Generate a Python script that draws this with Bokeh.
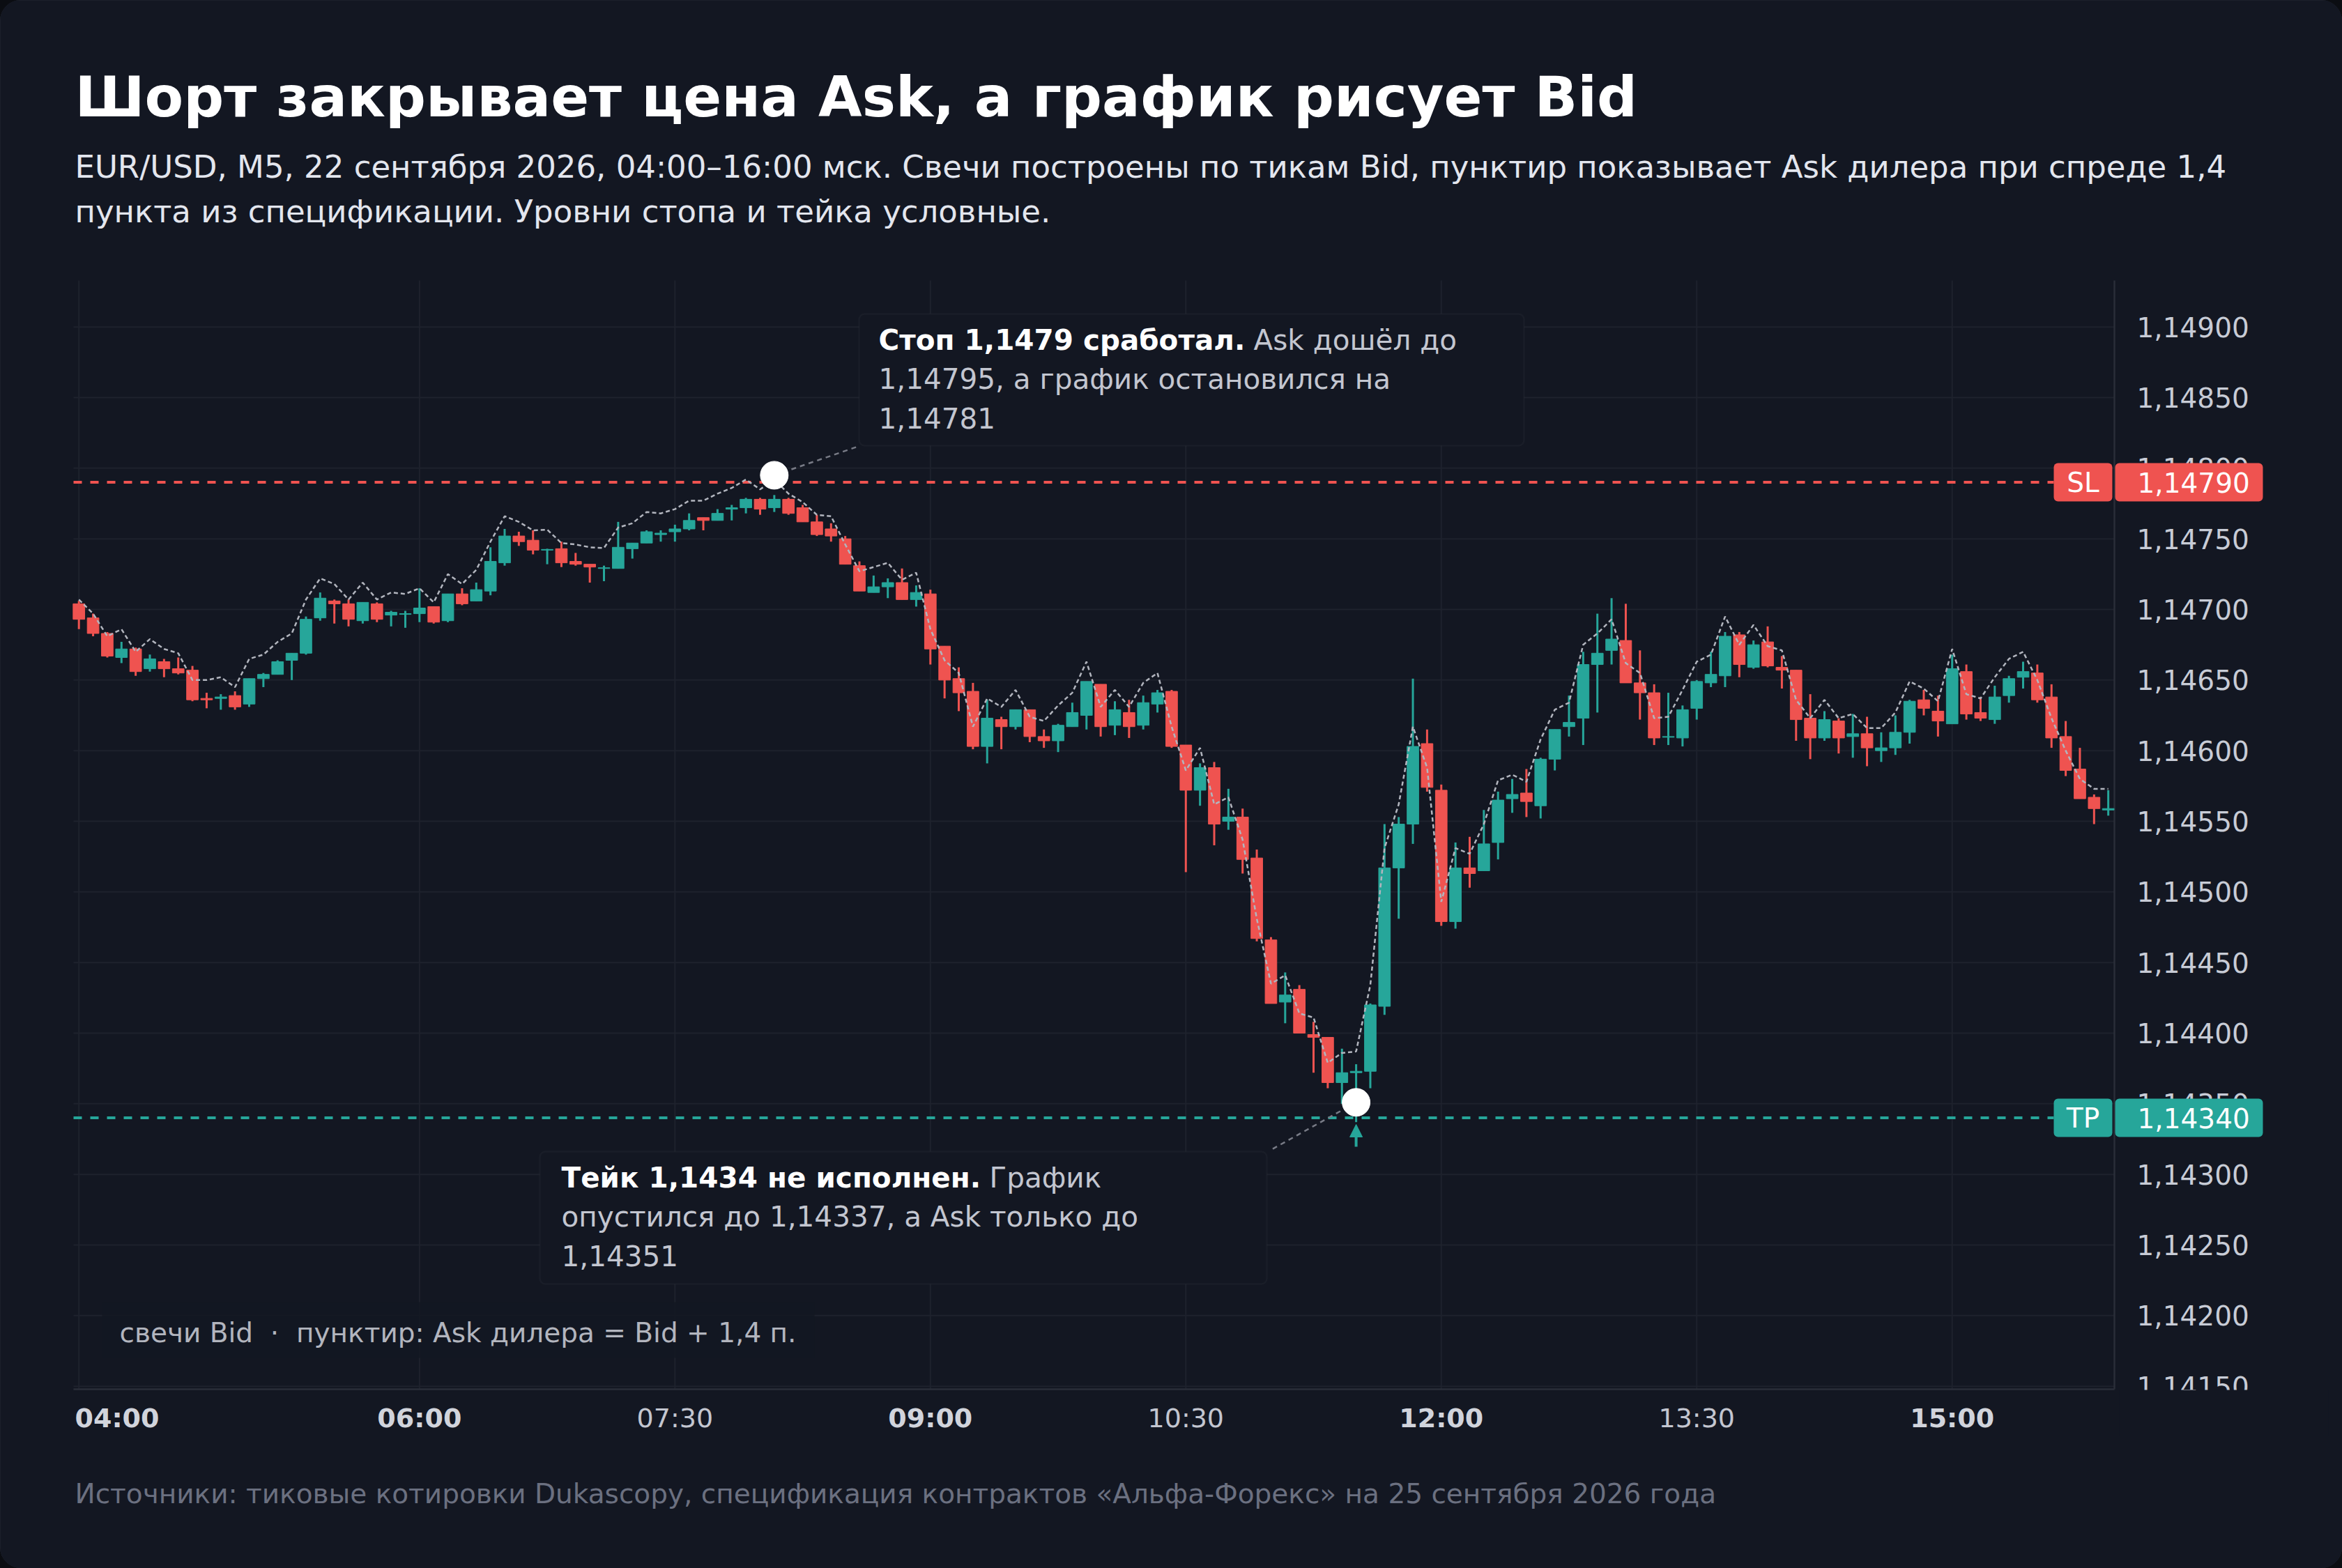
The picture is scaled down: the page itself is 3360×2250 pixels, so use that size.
from bokeh.plotting import figure
from bokeh.models import (Range1d, Label, BoxAnnotation, ColumnDataSource, Arrow, NormalHead)
from bokeh.core.properties import value
from bokeh.embed import file_html
from bokeh.resources import INLINE

# ---------------- data (EUR/USD M5, Bid candles) ----------------
opens = [1.14704, 1.14694, 1.14683, 1.14666, 1.14672, 1.14658, 1.14663, 1.14658, 1.14657, 1.14637,
         1.14637, 1.14639, 1.14633, 1.14651, 1.14654, 1.14664, 1.14669, 1.14694, 1.14706, 1.14704,
         1.14692, 1.14704, 1.14696, 1.146965, 1.14697, 1.14702, 1.14692, 1.14711, 1.14706, 1.14713,
         1.14733, 1.14752, 1.14749, 1.14742, 1.14743, 1.14734, 1.14732, 1.14729, 1.14729, 1.14743,
         1.14747, 1.14753, 1.14755, 1.14757, 1.14765, 1.14763, 1.14771, 1.14772, 1.14778, 1.14772,
         1.14778, 1.14772, 1.14762, 1.14757, 1.14750, 1.14731, 1.14712, 1.14716, 1.14719, 1.14707,
         1.14711, 1.14674, 1.14651, 1.14642, 1.14603, 1.14622, 1.14617, 1.14629, 1.14610, 1.14607,
         1.14617, 1.14625, 1.14647, 1.14618, 1.14627, 1.14618, 1.14633, 1.14642, 1.14604, 1.14572,
         1.14588, 1.14550, 1.14553, 1.14524, 1.14466, 1.14422, 1.14431, 1.14399, 1.14397, 1.14365,
         1.14372, 1.14373, 1.14419, 1.14517, 1.14548, 1.14605, 1.14572, 1.14479, 1.14517, 1.14515,
         1.14535, 1.14566, 1.14570, 1.14561, 1.14594, 1.14617, 1.14623, 1.14661, 1.14671, 1.14678,
         1.14648, 1.14641, 1.146095, 1.14609, 1.14630, 1.14648, 1.14653, 1.14682, 1.14659, 1.14677,
         1.14659, 1.14657, 1.14623, 1.14609, 1.14621, 1.14610, 1.14612, 1.14600, 1.14602, 1.14613,
         1.14636, 1.14628, 1.14619, 1.14656, 1.14627, 1.14622, 1.14639, 1.14652, 1.14655, 1.14638,
         1.14610, 1.14587, 1.14567, 1.14558]
highs = [1.14706, 1.14697, 1.14684, 1.14677, 1.14673, 1.14668, 1.14665, 1.14666, 1.14660, 1.14641,
         1.14640, 1.14642, 1.14651, 1.14655, 1.14664, 1.14669, 1.14695, 1.14712, 1.14707, 1.14707,
         1.14705, 1.14705, 1.14699, 1.14699, 1.14715, 1.14702, 1.14711, 1.14715, 1.14719, 1.14744,
         1.14757, 1.14755, 1.14756, 1.14743, 1.14748, 1.14740, 1.14732, 1.14731, 1.14762, 1.14747,
         1.14756, 1.14756, 1.14760, 1.14768, 1.14765, 1.14771, 1.14774, 1.14779, 1.14779, 1.14781,
         1.14779, 1.14774, 1.14767, 1.14761, 1.14752, 1.14734, 1.14724, 1.14722, 1.14729, 1.14717,
         1.14714, 1.14674, 1.14659, 1.14648, 1.14636, 1.14624, 1.14629, 1.14629, 1.14615, 1.14619,
         1.14634, 1.14649, 1.14647, 1.14635, 1.14636, 1.14639, 1.14643, 1.14643, 1.14604, 1.14591,
         1.14592, 1.14573, 1.14559, 1.14530, 1.14468, 1.14443, 1.14434, 1.14408, 1.14397, 1.14389,
         1.14378, 1.14421, 1.14548, 1.14553, 1.14651, 1.14615, 1.14576, 1.14535, 1.14539, 1.14558,
         1.14571, 1.14580, 1.14587, 1.14595, 1.14615, 1.14639, 1.14670, 1.14697, 1.14708, 1.14704,
         1.14671, 1.14647, 1.14641, 1.14632, 1.14650, 1.14670, 1.14684, 1.14684, 1.14678, 1.14688,
         1.14667, 1.14657, 1.14640, 1.14628, 1.14623, 1.14626, 1.14624, 1.14613, 1.14625, 1.14636,
         1.14643, 1.14639, 1.14668, 1.14661, 1.14638, 1.14646, 1.14653, 1.14663, 1.14661, 1.14647,
         1.14621, 1.14602, 1.14569, 1.14572]
lows = [1.14686, 1.14681, 1.14666, 1.14662, 1.14653, 1.14656, 1.14652, 1.14654, 1.14635, 1.14630,
        1.14629, 1.14629, 1.14631, 1.14645, 1.14654, 1.14650, 1.14668, 1.14692, 1.14690, 1.14688,
        1.14690, 1.14691, 1.14688, 1.14687, 1.14691, 1.14690, 1.14691, 1.14703, 1.14706, 1.14710,
        1.14731, 1.14745, 1.14739, 1.14732, 1.14730, 1.14731, 1.14719, 1.14720, 1.14729, 1.14736,
        1.14747, 1.14748, 1.14748, 1.14756, 1.14756, 1.14763, 1.14763, 1.14768, 1.14767, 1.14769,
        1.14767, 1.14762, 1.14752, 1.14748, 1.14732, 1.14713, 1.14712, 1.14708, 1.14707, 1.14702,
        1.14661, 1.14637, 1.14628, 1.14601, 1.14591, 1.14601, 1.14615, 1.14606, 1.14602, 1.14599,
        1.14617, 1.14615, 1.14610, 1.14611, 1.14609, 1.14615, 1.14627, 1.14602, 1.14514, 1.14561,
        1.14533, 1.14544, 1.14513, 1.14465, 1.14421, 1.14407, 1.14400, 1.14372, 1.14361, 1.14350,
        1.14337, 1.14361, 1.14413, 1.14481, 1.14534, 1.14571, 1.14476, 1.14474, 1.14503, 1.14515,
        1.14523, 1.14556, 1.14553, 1.14552, 1.14586, 1.14610, 1.14604, 1.14627, 1.14661, 1.14648,
        1.14622, 1.14604, 1.14604, 1.14603, 1.14622, 1.14645, 1.14645, 1.14652, 1.14658, 1.14659,
        1.14644, 1.14607, 1.14594, 1.14607, 1.14598, 1.14595, 1.14589, 1.14592, 1.14597, 1.14605,
        1.14625, 1.14610, 1.14619, 1.14622, 1.14621, 1.14619, 1.14634, 1.14644, 1.14634, 1.14602,
        1.14582, 1.14566, 1.14548, 1.14554]
closes = [1.14693, 1.14683, 1.14667, 1.14672, 1.14656, 1.14665, 1.14658, 1.14655, 1.14636, 1.14636,
          1.14638, 1.14631, 1.14651, 1.14654, 1.14663, 1.14669, 1.14693, 1.14708, 1.14704, 1.14693,
          1.14705, 1.14693, 1.14698, 1.14697, 1.14701, 1.14691, 1.14711, 1.14704, 1.14714, 1.14734,
          1.14752, 1.14748, 1.14742, 1.147425, 1.14733, 1.14732, 1.14730, 1.147295, 1.14744, 1.14747,
          1.14755, 1.14754, 1.14757, 1.14763, 1.14763, 1.14768, 1.14772, 1.14778, 1.14771, 1.14778,
          1.14768, 1.14762, 1.14753, 1.14752, 1.14732, 1.14713, 1.14716, 1.14719, 1.14707, 1.14712,
          1.14672, 1.14650, 1.14641, 1.14603, 1.14623, 1.14617, 1.14629, 1.14610, 1.14607, 1.14618,
          1.14627, 1.14649, 1.14617, 1.14629, 1.14617, 1.14634, 1.14641, 1.14603, 1.14572, 1.14588,
          1.14548, 1.14553, 1.14523, 1.14467, 1.14421, 1.14427, 1.14400, 1.14397, 1.14365, 1.14372,
          1.14373, 1.14420, 1.14517, 1.14548, 1.14603, 1.14574, 1.14479, 1.14517, 1.14513, 1.14534,
          1.14565, 1.14569, 1.14564, 1.14594, 1.14615, 1.14620, 1.14661, 1.14669, 1.14679, 1.14648,
          1.14641, 1.14609, 1.14610, 1.14629, 1.14649, 1.14654, 1.14681, 1.14661, 1.14675, 1.14660,
          1.14657, 1.14622, 1.14609, 1.14622, 1.14609, 1.14612, 1.14602, 1.14602, 1.14613, 1.14635,
          1.14630, 1.14621, 1.14658, 1.14626, 1.14623, 1.14638, 1.14651, 1.14656, 1.14636, 1.14609,
          1.14586, 1.14566, 1.14559, 1.14559]

SPREAD = 0.00014          # 1,4 pips from the dealer's specification: Ask = Bid + spread
SL_LEVEL = 1.14790
TP_LEVEL = 1.14340
STOP_CANDLE = 49          # candle whose Ask touched the stop
TAKE_CANDLE = 90          # candle with the lowest Bid

time_ticks = [0, 24, 42, 60, 78, 96, 114, 132]
time_labels = ["04:00", "06:00", "07:30", "09:00", "10:30", "12:00", "13:30", "15:00"]
bold_times = ["04:00", "06:00", "09:00", "12:00", "15:00"]
price_ticks = [1.14150, 1.14200, 1.14250, 1.14300, 1.14350, 1.14400, 1.14450, 1.14500,
               1.14550, 1.14600, 1.14650, 1.14700, 1.14750, 1.14800, 1.14850, 1.14900]
price_labels = ["1,14150", "1,14200", "1,14250", "1,14300", "1,14350", "1,14400", "1,14450", "1,14500",
                "1,14550", "1,14600", "1,14650", "1,14700", "1,14750", "1,14800", "1,14850", "1,14900"]

TITLE = "Шорт закрывает цена Ask, а график рисует Bid"
SUB1 = "EUR/USD, M5, 22 сентября 2026, 04:00–16:00 мск. Свечи построены по тикам Bid, пунктир показывает Ask дилера при спреде 1,4"
SUB2 = "пункта из спецификации. Уровни стопа и тейка условные."
SOURCE = "Источники: тиковые котировки Dukascopy, спецификация контрактов «Альфа-Форекс» на 25 сентября 2026 года"
LEGEND = "свечи Bid\u00a0\u00a0·\u00a0\u00a0пунктир: Ask дилера = Bid + 1,4 п."

# ---------------- style ----------------
BG = "#131722"
GRID = "#1e222d"
AXIS = "#2a2e39"
UP = "#26a69a"
DOWN = "#ef5350"
FONT = "DejaVu Sans"

# page-pixel -> data helpers (candle index on x, price on y)
FX0, FDX = 112.7, 20.36
FY0, FPY = 874.0, 2.0267


def xd(X):
    return (X - FX0) / FDX


def yd(Y):
    return 1.147 + (FY0 - Y) / FPY * 1e-5


# plot area edges (page pixels)
LEFT, RIGHT, TOP, BOTTOM = 105, 3033, 402, 1993

W, H = 3360, 2250
p = figure(width=W, height=H, output_backend="svg", toolbar_location=None,
           x_range=Range1d(xd(0), xd(W)), y_range=Range1d(yd(H), yd(0)),
           x_axis_location=None, y_axis_location=None, min_border=0)
p.background_fill_color = BG
p.border_fill_color = BG
p.outline_line_color = None
p.grid.visible = False

try:
    from bokeh.models import InlineStyleSheet, GlobalInlineStyleSheet
    p.stylesheets = [
        InlineStyleSheet(css=":host { border-radius: 30px; overflow: hidden; outline: 3px solid #262a35; outline-offset: -3px; }"),
        GlobalInlineStyleSheet(css="html, body { background: #0b0d12; }"),
    ]
except Exception:
    pass

# grid
p.segment(x0=time_ticks, y0=[yd(BOTTOM)] * len(time_ticks), x1=time_ticks, y1=[yd(TOP)] * len(time_ticks),
          line_color=GRID, line_width=2)
p.segment(x0=[xd(LEFT)] * len(price_ticks), y0=price_ticks, x1=[xd(RIGHT)] * len(price_ticks), y1=price_ticks,
          line_color=GRID, line_width=2)
# axis lines
p.segment(x0=[xd(LEFT), xd(RIGHT)], y0=[yd(BOTTOM), yd(BOTTOM)], x1=[xd(RIGHT), xd(RIGHT)], y1=[yd(BOTTOM), yd(TOP)],
          line_color=AXIS, line_width=2.5)

# price scale labels
p.text(x=[xd(3065)] * len(price_ticks), y=price_ticks, text=price_labels, text_font=value(FONT),
       text_font_size="39px", text_color="#c8ccd6", text_align="left", text_baseline="middle")

# SL / TP levels
p.line([xd(LEFT), xd(2946)], [SL_LEVEL, SL_LEVEL], line_color=DOWN, line_width=4, line_dash="12 12")
p.line([xd(LEFT), xd(2946)], [TP_LEVEL, TP_LEVEL], line_color=UP, line_width=4, line_dash="12 12")

# candles
n = len(closes)
idx = list(range(n))
colors = [UP if c >= o else DOWN for o, c in zip(opens, closes)]
src = ColumnDataSource(dict(
    x=idx, high=highs, low=lows,
    top=[max(o, c) for o, c in zip(opens, closes)],
    bottom=[min(o, c) for o, c in zip(opens, closes)],
    color=colors))
p.segment(x0="x", y0="low", x1="x", y1="high", line_color="color", line_width=3, source=src)
p.vbar(x="x", width=0.82, top="top", bottom="bottom", fill_color="color",
       line_color="color", line_width=1, source=src)

# dealer Ask line
ask = [c + SPREAD for c in closes]
p.line(idx, ask, line_color="#b2b5be", line_width=2.5, line_dash="6 4")

# key points
stop_ask = highs[STOP_CANDLE] + SPREAD
take_ask = lows[TAKE_CANDLE] + SPREAD
p.line([STOP_CANDLE, xd(1228)], [stop_ask, yd(641)], line_color="#787b86", line_width=2.5, line_dash="7 6")
p.line([TAKE_CANDLE, xd(1822)], [take_ask, yd(1650)], line_color="#787b86", line_width=2.5, line_dash="7 6")
p.scatter([STOP_CANDLE, TAKE_CANDLE], [stop_ask, take_ask], size=40,
          fill_color="#ffffff", line_color="#ffffff")
p.add_layout(Arrow(end=NormalHead(size=18, fill_color=UP, line_color=UP),
                   x_start=TAKE_CANDLE, y_start=yd(1645), x_end=TAKE_CANDLE, y_end=yd(1613),
                   line_color=UP, line_width=4))

# annotation boxes
for (l, r, t, b) in [(1232, 2186, 450, 639), (774, 1817, 1652, 1842)]:
    p.add_layout(BoxAnnotation(left=xd(l), right=xd(r), top=yd(t), bottom=yd(b),
                               fill_color=BG, fill_alpha=1, line_color=AXIS, line_width=2.5,
                               border_radius=8))
# legend backdrop
p.add_layout(BoxAnnotation(left=xd(146), right=xd(1168), top=yd(1868), bottom=yd(1948),
                           fill_color=BG, fill_alpha=0.85, line_color=None))

# lower half of the bottom price label is cut at the plot edge
p.add_layout(BoxAnnotation(left=xd(3040), right=xd(3340), top=yd(BOTTOM + 1), bottom=yd(2060),
                           fill_color=BG, fill_alpha=1, line_color=None))

# SL / TP tags on the price scale
half = 27.5 / FPY * 1e-5
for lvl, col in [(SL_LEVEL, DOWN), (TP_LEVEL, UP)]:
    p.add_layout(BoxAnnotation(left=xd(2946), right=xd(3030), top=lvl + half, bottom=lvl - half,
                               fill_color=col, fill_alpha=1, line_color=None, border_radius=6))
    p.add_layout(BoxAnnotation(left=xd(3034), right=xd(3246), top=lvl + half, bottom=lvl - half,
                               fill_color=col, fill_alpha=1, line_color=None, border_radius=6))


def txt(x, y, s, size, color, bold=False, align="left", baseline="alphabetic"):
    p.add_layout(Label(x=x, y=y, text=s, text_font=FONT, text_font_size=size,
                       text_font_style="bold" if bold else "normal", text_color=color,
                       text_align=align, text_baseline=baseline))


for lvl, tag in [(SL_LEVEL, "SL"), (TP_LEVEL, "TP")]:
    txt(xd(2988), lvl, tag, "39px", "#ffffff", align="center", baseline="middle")
    txt(xd(3066), lvl, f"{lvl:.5f}".replace(".", ","), "39px", "#ffffff", baseline="middle")

# headings
txt(xd(107), yd(138), TITLE, "81px", "#ffffff", bold=True)
txt(xd(107), yd(239), SUB1, "45px", "#e3e6ee")
txt(xd(107), yd(303), SUB2, "45px", "#e3e6ee")

# annotation texts
txt(xd(1260), yd(487), "Стоп 1,1479 сработал.", "40.5px", "#ffffff", bold=True)
txt(xd(1798), yd(487), "Ask дошёл до", "40.5px", "#c3c6d0")
txt(xd(1260), yd(543), "1,14795, а график остановился на", "40.5px", "#c3c6d0")
txt(xd(1260), yd(599), "1,14781", "40.5px", "#c3c6d0")

txt(xd(805), yd(1689), "Тейк 1,1434 не исполнен.", "40.5px", "#ffffff", bold=True)
txt(xd(1419), yd(1689), "График", "40.5px", "#c3c6d0")
txt(xd(805), yd(1745), "опустился до 1,14337, а Ask только до", "40.5px", "#c3c6d0")
txt(xd(805), yd(1801), "1,14351", "40.5px", "#c3c6d0")

txt(xd(171), yd(1912), LEGEND, "39px", "#b2b5be", baseline="middle")

# time axis labels
for t, lab in zip(time_ticks, time_labels):
    b = lab in bold_times
    col = "#d1d4dc" if b else "#c3c6d0"
    if t == time_ticks[0]:
        txt(xd(107), yd(2034), lab, "38px", col, bold=b, baseline="middle")
    else:
        txt(t, yd(2034), lab, "38px", col, bold=b, align="center", baseline="middle")

txt(xd(107), yd(2143), SOURCE, "39px", "#6b7080", baseline="middle")

open("out.html", "w").write(file_html(p, INLINE))
